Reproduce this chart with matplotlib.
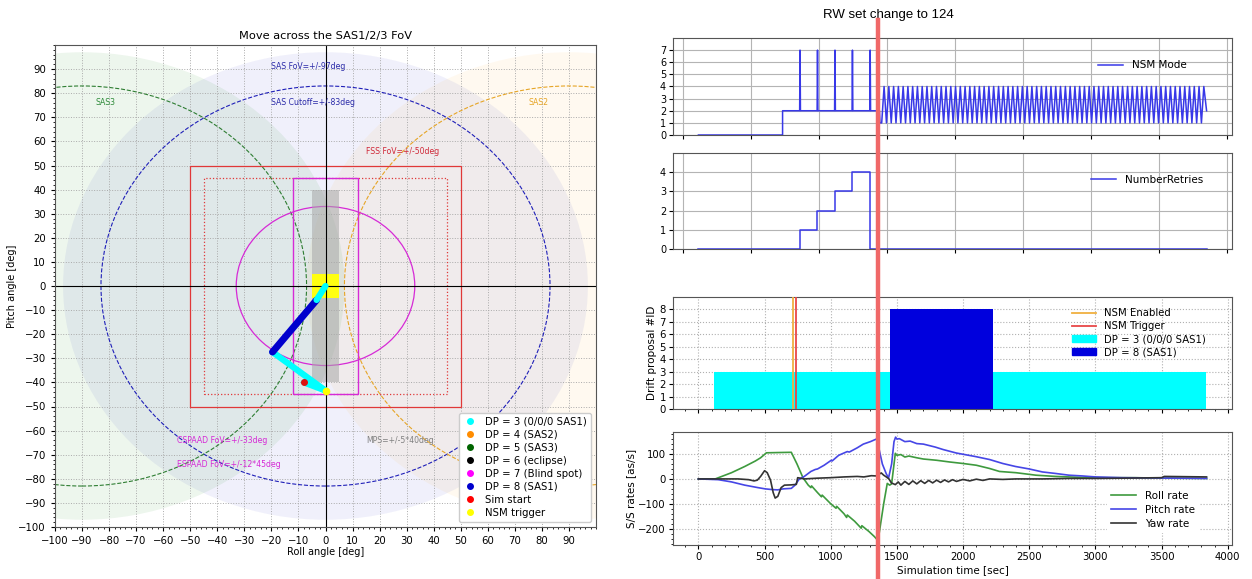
import numpy as np
import matplotlib
matplotlib.use('Agg')
import matplotlib.pyplot as plt
import matplotlib.transforms as mtransforms
from matplotlib.patches import Circle, Rectangle, Ellipse
from matplotlib.lines import Line2D
from matplotlib.ticker import AutoMinorLocator, MultipleLocator

# ---- left: sensor field of views and attitude track ----
sas_names = ['SAS1', 'SAS2', 'SAS3']
sas_roll = [0, 90, -90]
sas_colors = ['#2828c8', 'orange', 'green']
sas_alpha = [0.065, 0.06, 0.07]
sas_line_colors = ['#1f1fb8', '#e6a526', '#2e7d32']
sas_fov = 97
sas_cutoff = 83
fss_fov = 50
fss_inner = 45
cspaad_fov = 33
espaad_fov = [12, 45]
mps_fov = [5, 40]
nsm_box = 5

# track (roll, pitch) per drift proposal segment
dp3a_roll = [-8, 0, -19.6]
dp3a_pitch = [-40, -43.4, -27.4]
dp8_roll = [-19.6, -3.3]
dp8_pitch = [-27.4, -5.8]
dp3b_roll = [-3.3, 0]
dp3b_pitch = [-5.8, 0]
sim_start = [-8, -40]
nsm_trigger = [0, -43.4]

dp_labels = ['DP = 3 (0/0/0 SAS1)', 'DP = 4 (SAS2)', 'DP = 5 (SAS3)', 'DP = 6 (eclipse)',
             'DP = 7 (Blind spot)', 'DP = 8 (SAS1)', 'Sim start', 'NSM trigger']
dp_colors = ['cyan', 'darkorange', 'darkgreen', 'black', 'magenta', 'mediumblue', 'red', 'yellow']

# ---- right: NSM telemetry ----
rw_change_t = 1358
mode_on_t = 636
spike_t = [768, 900, 1032, 1164, 1298]
tooth_t = [1385, 1421, 1457, 1493, 1529, 1565, 1601, 1637, 1673, 1709, 1745, 1781, 1817, 1853,
           1889, 1925, 1961, 1997, 2033, 2069, 2105, 2141, 2177, 2213, 2250, 2286, 2322, 2358,
           2394, 2430, 2466, 2502, 2538, 2574, 2610, 2646, 2682, 2718, 2755, 2791, 2827, 2863,
           2899, 2935, 2971, 3007, 3043, 3079, 3115, 3151, 3187, 3225, 3261, 3297, 3333, 3369,
           3405, 3441, 3477, 3513, 3549, 3585, 3621, 3657, 3693, 3729, 3765, 3801]
end_t = 3840

retry_t = [0, 766, 898, 1030, 1162, 1296, 3840]
retry_v = [0, 1, 2, 3, 4, 0, 0]

dp_start = [121, 1446, 2223]
dp_end = [1446, 2223, 3832]
dp_id = [3, 8, 3]
nsm_enabled_t = 711
nsm_trigger_t = 741

roll_t = [0, 127, 250, 350, 430, 470, 514, 600, 702, 745, 790, 830, 850, 855, 900, 930, 935,
          1000, 1040, 1045, 1100, 1120, 1125, 1180, 1230, 1235, 1290, 1330, 1352, 1367, 1400,
          1427, 1445, 1460, 1488, 1500, 1530, 1560, 1590, 1650, 1700, 1800, 1900, 2000, 2100,
          2200, 2275, 2400, 2550, 2700, 2900, 3100, 3300, 3500, 3840]
roll_v = [0, 0, 25, 50, 72, 85, 105, 106, 107, 60, 5, -25, -35, -28, -55, -72, -65,
          -100, -118, -110, -140, -155, -145, -170, -198, -188, -212, -232, -245, -215, -100,
          -18, -25, -20, 103, 95, 98, 88, 92, 85, 80, 75, 68, 62, 55,
          42, 30, 25, 15, 10, 6, 5, 5, 3, 2]

pitch_t = [0, 150, 250, 350, 450, 505, 560, 600, 640, 702, 730, 760, 800, 850, 883, 900, 950,
           1004, 1010, 1060, 1125, 1140, 1200, 1246, 1300, 1352, 1365, 1390, 1420, 1437, 1460,
           1478, 1490, 1500, 1518, 1560, 1600, 1650, 1700, 1790, 1850, 1950, 2093, 2200, 2300,
           2396, 2500, 2600, 2698, 2800, 2900, 3000, 3200, 3400, 3600, 3840]
pitch_v = [0, -3, -12, -25, -35, -40, -43, -44, -40, -38, -25, -2, 10, 30, 38, 40, 55,
           75, 72, 95, 110, 108, 125, 140, 150, 162, 120, 60, 20, 4, 60,
           150, 168, 160, 162, 150, 152, 142, 140, 128, 118, 104, 90, 78, 62,
           50, 40, 28, 22, 15, 12, 8, 5, 4, 3, 2]

yaw_t = [0, 300, 380, 420, 445, 470, 500, 520, 545, 565, 580, 600, 625, 650, 700, 740, 750,
         800, 900, 1000, 1100, 1200, 1250, 1307, 1340, 1382, 1400, 1420, 1440, 1458, 1488,
         1510, 1530, 1560, 1590, 1620, 1650, 1680, 1710, 1740, 1770, 1800, 1830, 1860, 1890,
         1920, 1950, 2000, 2050, 2100, 2150, 2200, 2300, 2400, 2600, 2800, 3000, 3200, 3500,
         3520, 3840]
yaw_v = [0, 0, -3, -8, -5, 10, 33, 25, -5, -55, -77, -70, -35, -25, -24, -22, 5,
         0, 3, 5, 8, 10, 8, 13, 12, 24, 15, 8, 0, -16, -23,
         -12, -25, -10, -22, -8, -20, -7, -18, -6, -16, -5, -14, -4, -12,
         -3, -10, -2, -8, -1, -6, 0, -2, 0, 0, 2, 2, 3, 5,
         10, 8]

W, H = 1252, 579
fig = plt.figure(figsize=(W / 100, H / 100), dpi=100)


def px_axes(l, t, r, b):
    return fig.add_axes([l / W, 1 - b / H, (r - l) / W, (b - t) / H])


# ================= left panel =================
ax = px_axes(55, 45, 596, 527)
for c, fc, al in zip(sas_roll, sas_colors, sas_alpha):
    ax.add_patch(Circle((c, 0), sas_fov, facecolor=fc, alpha=al, edgecolor='none', zorder=0.5))
for c, lc in zip(sas_roll, sas_line_colors):
    ax.add_patch(Circle((c, 0), sas_cutoff, fill=False, ls='--', lw=0.8, edgecolor=lc, zorder=1.6))

ax.add_patch(Rectangle((-fss_fov, -fss_fov), 2 * fss_fov, 2 * fss_fov, fill=False,
                       edgecolor='#e03838', lw=0.9, zorder=1.7))
ax.add_patch(Rectangle((-fss_inner, -fss_inner), 2 * fss_inner, 2 * fss_inner, fill=False,
                       edgecolor='#e03838', lw=0.9, ls=':', zorder=1.7))
ax.add_patch(Rectangle((-espaad_fov[0], -espaad_fov[1]), 2 * espaad_fov[0], 2 * espaad_fov[1],
                       fill=False, edgecolor='#d62ad6', lw=1.0, zorder=1.7))
ax.add_patch(Ellipse((0, 0), 2 * cspaad_fov, 2 * cspaad_fov, fill=False,
                     edgecolor='#d62ad6', lw=0.9, zorder=1.7))
ax.add_patch(Rectangle((-mps_fov[0], -mps_fov[1]), 2 * mps_fov[0], 2 * mps_fov[1],
                       facecolor='#a8a8a8', alpha=0.55, edgecolor='none', zorder=1.8))
ax.add_patch(Rectangle((-nsm_box, -nsm_box), 2 * nsm_box, 2 * nsm_box,
                       facecolor='#ffff10', edgecolor='none', zorder=1.9))

ax.axhline(0, color='black', lw=0.8, zorder=2)
ax.axvline(0, color='black', lw=0.8, zorder=2)

ax.plot(dp3a_roll, dp3a_pitch, color='cyan', lw=4.5, solid_capstyle='round', zorder=3)
ax.plot(dp8_roll, dp8_pitch, color='mediumblue', lw=5, solid_capstyle='round', zorder=3)
ax.plot(dp3b_roll, dp3b_pitch, color='cyan', lw=4.5, solid_capstyle='round', zorder=3)
ax.plot(*sim_start, 'o', color='#dd1111', ms=4, zorder=4)
ax.plot(*nsm_trigger, 'o', color='yellow', ms=4.5, zorder=4)

tfs = 5.6
ax.text(-20, 91, 'SAS FoV=+/-97deg', color='#2a2aa8', fontsize=tfs, va='center')
ax.text(-20, 76, 'SAS Cutoff=+/-83deg', color='#2a2aa8', fontsize=tfs, va='center')
ax.text(-85, 76, 'SAS3', color='#2e8b3a', fontsize=tfs, va='center')
ax.text(75, 76, 'SAS2', color='#e6a526', fontsize=tfs, va='center')
ax.text(15, 56, 'FSS FoV=+/-50deg', color='#d02838', fontsize=tfs, va='center')
ax.text(-55, -64, 'CSPAAD FoV=+/-33deg', color='#d62ad6', fontsize=tfs, va='center')
ax.text(-55, -74, 'ESPAAD FoV=+/-12*45deg', color='#d62ad6', fontsize=tfs, va='center')
ax.text(15, -64, 'MPS=+/-5*40deg', color='grey', fontsize=tfs, va='center')

ax.set_xlim(-100, 100)
ax.set_ylim(-100, 100)
ax.set_xticks(np.arange(-100, 100, 10))
ax.set_yticks(np.arange(-100, 100, 10))
ax.xaxis.set_minor_locator(AutoMinorLocator(5))
ax.yaxis.set_minor_locator(AutoMinorLocator(5))
ax.tick_params(labelsize=7.3, length=3, width=0.8)
ax.tick_params(which='minor', length=1.5)
ax.grid(True, ls=':', color='#aaaaaa', lw=0.7)
ax.set_xlabel('Roll angle [deg]', fontsize=7, labelpad=1)
ax.set_ylabel('Pitch angle [deg]', fontsize=7, labelpad=1)
ax.set_title('Move across the SAS1/2/3 FoV', fontsize=8.2, pad=4)
for s in ax.spines.values():
    s.set_color('#555555')

handles = [Line2D([], [], marker='o', ls='', color=c, ms=4, label=l)
           for c, l in zip(dp_colors, dp_labels)]
ax.legend(handles=handles, loc='lower right', fontsize=7.3, handletextpad=0.7,
          labelspacing=0.3, borderpad=0.4, framealpha=1, handlelength=1.5)

# ================= right panels =================
ax4 = px_axes(673, 432, 1232, 545)
ax4.plot(roll_t, roll_v, color='#3e9a3e', lw=1.2, label='Roll rate')
ax4.plot(pitch_t, pitch_v, color='#4646e6', lw=1.2, label='Pitch rate')
ax4.plot(yaw_t, yaw_v, color='#333333', lw=1.2, label='Yaw rate')
xl = ax4.get_xlim()

ax1 = px_axes(673, 38, 1232, 135)
ax2 = px_axes(673, 153, 1232, 249)
ax3 = px_axes(673, 297, 1232, 409)

# NSM mode trace
mt = [0, mode_on_t, mode_on_t]
mv = [0, 0, 2]
for s in spike_t:
    mt += [s - 3, s, s + 3]
    mv += [2, 7, 2]
mt += [rw_change_t + 10, rw_change_t + 14]
mv += [2, 1]
for s in tooth_t:
    mt += [s, s + 18]
    mv += [1, 4]
mt += [end_t]
mv += [2]
ax1.plot(mt, mv, color='#3838e8', lw=1.1, label='NSM Mode')
ax1.set_ylim(0, 8)
ax1.set_yticks(range(8))

ax2.step(retry_t, retry_v, where='post', color='#3838e8', lw=1.1, label='NumberRetries')
ax2.set_ylim(0, 5)
ax2.set_yticks(range(5))

top_ticks = np.linspace(-115, 3997, 9)
for a, lx in ((ax1, 0.935), (ax2, 0.965)):
    a.set_xlim(xl)
    a.set_xticks(top_ticks)
    a.set_xticklabels([])
    a.grid(True, color='#b4b4b4', lw=0.8)
    a.tick_params(labelsize=7, length=3, pad=2)
    for s in a.spines.values():
        s.set_color('#555555')
    a.legend(loc='center right', bbox_to_anchor=(lx, 0.72), frameon=False, fontsize=7.5,
             handlelength=2.4)

# drift proposal
dp_cols = {3: 'cyan', 8: '#0000dd'}
for s0, s1, d in zip(dp_start, dp_end, dp_id):
    ax3.bar(s0, d, width=s1 - s0, align='edge', color=dp_cols[d], zorder=2)
ax3.axvline(nsm_enabled_t, color='#f0b040', lw=1.3, label='NSM Enabled', zorder=3)
ax3.axvline(nsm_trigger_t, color='#e84848', lw=1.3, label='NSM Trigger', zorder=3)
ax3.set_xlim(xl)
ax3.set_ylim(0, 9)
ax3.set_yticks(range(9))
ax3.set_ylabel('Drift proposal #ID', fontsize=7.5, labelpad=2)
h3 = ax3.get_legend_handles_labels()[0][:2] + [
    Rectangle((0, 0), 1, 1, color='cyan'), Rectangle((0, 0), 1, 1, color='#0000dd')]
ax3.legend(h3, ['NSM Enabled', 'NSM Trigger', 'DP = 3 (0/0/0 SAS1)', 'DP = 8 (SAS1)'],
           loc='upper right', bbox_to_anchor=(0.97, 0.98), frameon=False, fontsize=7.3,
           handlelength=2.4, labelspacing=0.3)

ax4.set_xlim(xl)
ax4.set_ylabel('S/S rates [as/s]', fontsize=7.5, labelpad=2)
ax4.set_xlabel('Simulation time [sec]', fontsize=7.5, labelpad=2)
ax4.legend(loc='lower right', bbox_to_anchor=(0.95, 0.06), fontsize=7.5, frameon=True,
           edgecolor='none', framealpha=1, handlelength=2.4, labelspacing=0.4)

for a in (ax3, ax4):
    a.xaxis.set_major_locator(MultipleLocator(500))
    a.xaxis.set_minor_locator(AutoMinorLocator(5))
    a.yaxis.set_minor_locator(AutoMinorLocator(5))
    a.grid(True, ls=':', color='#b0b0b0', lw=0.8)
    a.tick_params(labelsize=7.3, length=3, pad=2)
    a.tick_params(which='minor', length=1.5)
    for s in a.spines.values():
        s.set_color('#555555')
ax3.set_xticklabels([])
ax3.yaxis.set_minor_locator(plt.NullLocator())

# RW set change marker across the right column
trans = mtransforms.blended_transform_factory(ax4.transData, fig.transFigure)
fig.add_artist(Line2D([rw_change_t, rw_change_t], [0, 1 - 20 / H], transform=trans,
                      color='#f06868', lw=3.2, zorder=10))
fig.text(888 / W, 1 - 15 / H, 'RW set change to 124', ha='center', va='center',
         fontsize=9.5, family='Liberation Sans')

fig.savefig('out.png', dpi=100)
